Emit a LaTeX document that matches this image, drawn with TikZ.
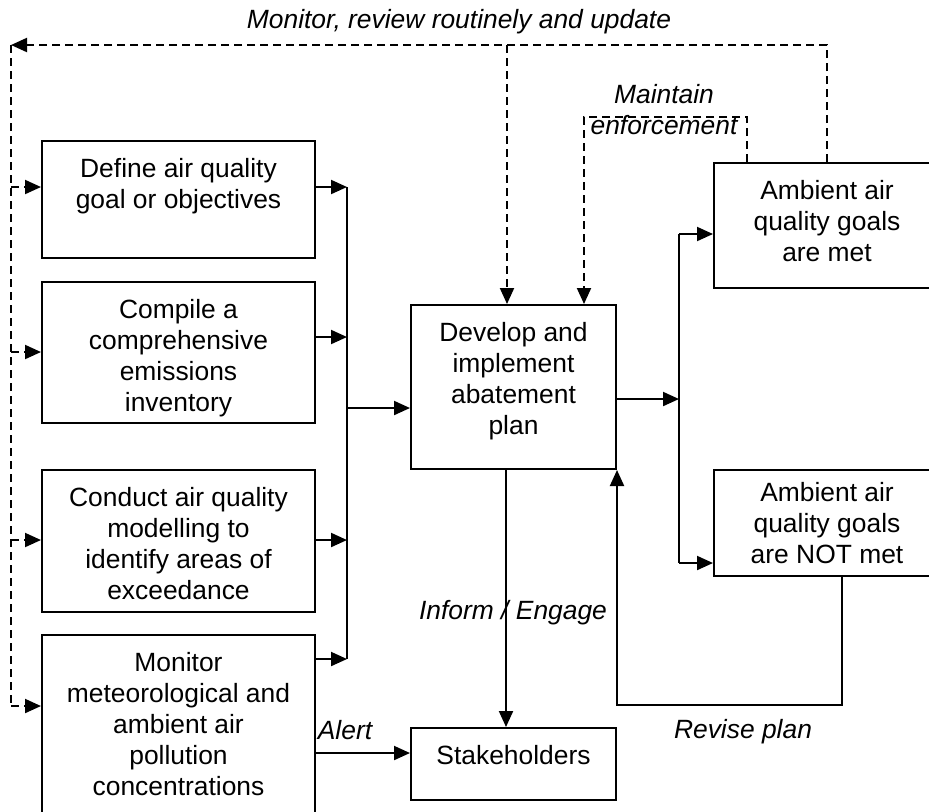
\documentclass[tikz,border=0pt]{standalone}
\usepackage{fontspec}
\setmainfont{Liberation Sans}
\usetikzlibrary{arrows.meta}
\begin{document}
\begin{tikzpicture}[x=0.5pt,y=-0.5pt,
  box/.style={draw, line width=1pt, inner sep=0pt},
  txt/.style={font=\fontsize{13.2pt}{15.5pt}\selectfont, align=center, inner sep=0pt},
  lbl/.style={font=\fontsize{13.2pt}{15.5pt}\selectfont\itshape, inner sep=0pt},
  link/.style={line width=1pt},
  flow/.style={link, -{Triangle[length=8pt,width=7pt]}},
  dlink/.style={link, dash pattern=on 4pt off 2.5pt},
  dflow/.style={flow, dash pattern=on 4pt off 2.5pt},
]
\clip (0,0) rectangle (929,811);

% process boxes on the left
\node[box, minimum width=136.5pt, minimum height=58.5pt] (b1) at (178.5,199.5) {};
\node[box, minimum width=136.5pt, minimum height=70.5pt] (b2) at (178.5,352.5) {};
\node[box, minimum width=136.5pt, minimum height=71pt]   (b3) at (178.5,541) {};
\node[box, minimum width=136.5pt, minimum height=92.5pt] (b4) at (178.5,727.5) {};
\node[txt, anchor=north] (t1) at ([yshift=-8.8pt]b1.north) {Define air quality\\goal or objectives};
\node[txt, anchor=north] (t2) at ([yshift=-8.8pt]b2.north) {Compile a\\comprehensive\\emissions\\inventory};
\node[txt, anchor=north] (t3) at ([yshift=-8.8pt]b3.north) {Conduct air quality\\modelling to\\identify areas of\\exceedance};
\node[txt, anchor=north] (t4) at ([yshift=-8.8pt]b4.north) {Monitor\\meteorological and\\ambient air\\pollution\\concentrations};

% plan and stakeholders
\node[box, minimum width=102.5pt, minimum height=82pt] (plan) at (513.5,387) {};
\node[txt, anchor=north] (tp) at ([yshift=-8.8pt]plan.north) {Develop and\\implement\\abatement\\plan};
\node[box, minimum width=102.5pt, minimum height=36pt] (stake) at (513.5,764) {};
\node[txt, anchor=north] (ts) at ([yshift=-8.8pt]stake.north) {Stakeholders};

% outcome boxes
\node[box, minimum width=113pt, minimum height=62.5pt] (met) at (827,225.5) {};
\node[txt, anchor=north] (tm) at ([yshift=-8.8pt]met.north) {Ambient air\\quality goals\\are met};
\node[box, minimum width=113pt, minimum height=53pt] (notmet) at (827,523) {};
\node[txt] (tn) at (notmet.center) {Ambient air\\quality goals\\are NOT met};

% collecting bus into the plan
\coordinate (j1) at (347,187);
\coordinate (j2) at (347,337);
\coordinate (j3) at (347,540);
\coordinate (j4) at (347,659);
\coordinate (jm) at (347,408);
\draw[flow] (b1.east |- j1) -- (j1);
\draw[flow] (b2.east |- j2) -- (j2);
\draw[flow] (b3.east |- j3) -- (j3);
\draw[flow] (b4.east |- j4) -- (j4);
\draw[link] (j1) -- (j4);
\draw[flow] (jm) -- (plan.west |- jm);

% branching to the outcomes
\coordinate (k0) at (679,399);
\coordinate (k1) at (679,234);
\coordinate (k2) at (679,563);
\draw[flow] (plan.east |- k0) -- (k0);
\draw[link] (k1) -- (k2);
\draw[flow] (k1) -- (met.west |- k1);
\draw[flow] (k2) -- (notmet.west |- k2);

% revise loop
\coordinate (r1) at (842,705);
\coordinate (r2) at (617,705);
\draw[flow] (r1 |- notmet.south) -- (r1) -- (r2) -- (r2 |- plan.south);
\node[lbl] (revise) at (743,732) {Revise plan};

% inform and alert
\draw[flow] ([xshift=-3.75pt]plan.south) -- ([xshift=-3.75pt]stake.north);
\node[lbl] (inform) at (513,613) {Inform / Engage};
\coordinate (al) at (0,753);
\draw[flow] (b4.east |- al) -- (stake.west |- al);
\node[lbl] (alert) at (345,730) {Alert};

% monitoring feedback
\coordinate (d0) at (11,45);
\coordinate (dm) at (507,45);
\coordinate (dr) at (827,45);
\coordinate (e1) at (11,187);
\coordinate (e2) at (11,352);
\coordinate (e3) at (11,540);
\coordinate (e4) at (11,706);
\draw[dflow] (met.north) -- (dr) -- (d0);
\draw[dlink] (d0) -- (e4);
\draw[dflow] (dm) -- (dm |- plan.north);
\draw[dflow] (e1) -- (b1.west |- e1);
\draw[dflow] (e2) -- (b2.west |- e2);
\draw[dflow] (e3) -- (b3.west |- e3);
\draw[dflow] (e4) -- (b4.west |- e4);
\node[lbl] (monitor) at (459,22) {Monitor, review routinely and update};

% enforcement feedback
\coordinate (m1) at (747,117);
\coordinate (m2) at (584,117);
\draw[dflow] (met.north -| m1) -- (m1) -- (m2) -- (m2 |- plan.north);
\node[lbl, align=center] (maint) at (664,110) {Maintain\\enforcement};
\end{tikzpicture}
\end{document}
